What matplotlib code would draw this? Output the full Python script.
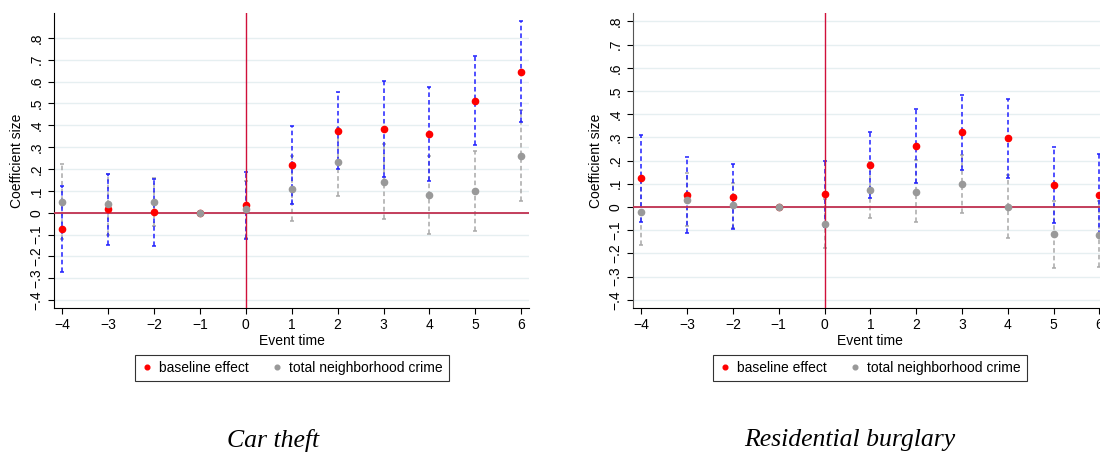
import matplotlib.pyplot as plt
import numpy as np

# event time
event_time = [-4, -3, -2, -1, 0, 1, 2, 3, 4, 5, 6]

# Car theft
car_base = [-0.073, 0.015, 0.002, 0.0, 0.034, 0.218, 0.374, 0.381, 0.360, 0.511, 0.645]
car_base_lo = [-0.270, -0.149, -0.152, 0.0, -0.119, 0.041, 0.200, 0.165, 0.143, 0.310, 0.413]
car_base_hi = [0.122, 0.178, 0.154, 0.0, 0.185, 0.396, 0.550, 0.602, 0.573, 0.715, 0.875]
car_tot = [0.049, 0.040, 0.049, 0.0, 0.015, 0.108, 0.232, 0.140, 0.079, 0.099, 0.261]
car_tot_lo = [-0.120, -0.100, -0.062, 0.0, -0.115, -0.038, 0.078, -0.029, -0.099, -0.082, 0.053]
car_tot_hi = [0.221, 0.175, 0.160, 0.0, 0.145, 0.258, 0.389, 0.314, 0.259, 0.282, 0.471]

# Residential burglary
bur_base = [0.123, 0.050, 0.041, 0.0, 0.056, 0.180, 0.261, 0.322, 0.296, 0.093, 0.053]
bur_base_lo = [-0.065, -0.114, -0.096, 0.0, -0.088, 0.039, 0.102, 0.161, 0.123, -0.069, -0.122]
bur_base_hi = [0.310, 0.215, 0.184, 0.0, 0.200, 0.322, 0.422, 0.481, 0.467, 0.259, 0.228]
bur_tot = [-0.020, 0.031, 0.009, 0.0, -0.075, 0.073, 0.066, 0.097, 0.000, -0.118, -0.119]
bur_tot_lo = [-0.165, -0.083, -0.092, 0.0, -0.177, -0.046, -0.066, -0.026, -0.135, -0.263, -0.259]
bur_tot_hi = [0.120, 0.145, 0.103, 0.0, 0.034, 0.192, 0.201, 0.224, 0.136, 0.027, 0.024]

yticks = [-0.4, -0.3, -0.2, -0.1, 0, 0.1, 0.2, 0.3, 0.4, 0.5, 0.6, 0.7, 0.8]
ytick_labels = ['\u2212.4', '\u2212.3', '\u2212.2', '\u2212.1', '0', '.1', '.2', '.3', '.4', '.5', '.6', '.7', '.8']

plt.rcParams['font.family'] = ['Liberation Sans', 'DejaVu Sans']

fig = plt.figure(figsize=(11, 4.53), dpi=100)


def panel(pos, ylim, base, blo, bhi, tot, tlo, thi, spine_col):
    ax = fig.add_axes(pos)
    x = np.array(event_time)
    base = np.array(base); tot = np.array(tot)
    for yt in yticks:
        ax.axhline(yt, color='#e6eff1', lw=1, zorder=0)
    # gray CIs
    eb = ax.errorbar(x, tot, yerr=[tot - np.array(tlo), np.array(thi) - tot], fmt='none',
                     ecolor='#a8a8a8', elinewidth=1.1, capsize=1.5, capthick=1.1, zorder=2)
    eb[2][0].set_linestyle((0, (3, 2)))
    eb = ax.errorbar(x, base, yerr=[base - np.array(blo), np.array(bhi) - base], fmt='none',
                     ecolor='#1f1fff', elinewidth=1.1, capsize=1.5, capthick=1.1, zorder=3)
    eb[2][0].set_linestyle((0, (3, 2)))
    ax.axhline(0, color='#c03050', lw=1.3, zorder=4)
    ax.axvline(0, color='#d0103a', lw=1.0, zorder=4)
    ax.plot(x, base, 'o', color='#ff0000', ms=4.5, zorder=5, label='baseline effect')
    ax.plot(x, tot, 'o', color='#999999', ms=4.5, zorder=6, label='total neighborhood crime')
    ax.set_xlim(-4.18, 6.17)
    ax.set_ylim(*ylim)
    ax.set_xticks(event_time)
    ax.set_xticklabels([str(t).replace('-', '\u2212') for t in event_time])
    ax.set_yticks(yticks)
    ax.set_yticklabels(ytick_labels, rotation=90, va='center')
    ax.tick_params(labelsize=10, length=4, width=0.8)
    for s in ['top', 'right']:
        ax.spines[s].set_visible(False)
    ax.spines['left'].set_color(spine_col)
    ax.set_xlabel('Event time', fontsize=10, labelpad=1)
    ax.set_ylabel('Coefficient size', fontsize=10, labelpad=4)
    return ax


ax1 = panel([0.0491, 0.320, 0.4318, 0.651], (-0.436, 0.913),
            car_base, car_base_lo, car_base_hi, car_tot, car_tot_lo, car_tot_hi, 'black')
ax2 = panel([0.5755, 0.320, 0.431, 0.651], (-0.436, 0.836),
            bur_base, bur_base_lo, bur_base_hi, bur_tot, bur_tot_lo, bur_tot_hi, '#555555')

for ax, cx in [(ax1, 292 / 1100), (ax2, 870 / 1100)]:
    leg = fig.legend(*ax.get_legend_handles_labels(), loc='center', ncol=2,
                     bbox_to_anchor=(cx, 1 - 368 / 453), fontsize=10, markerscale=0.75,
                     frameon=True, fancybox=False, handlelength=0.8, handletextpad=0.5,
                     columnspacing=1.6, borderpad=0.45)
    leg.get_frame().set_edgecolor('black')
    leg.get_frame().set_linewidth(0.8)

fig.text(273 / 1100, 1 - 440 / 453, 'Car theft', ha='center', va='center',
         fontsize=18.5, style='italic', family=['Liberation Serif', 'DejaVu Serif'])
fig.text(850 / 1100, 1 - 440 / 453, 'Residential burglary', ha='center', va='center',
         fontsize=18.5, style='italic', family=['Liberation Serif', 'DejaVu Serif'])

fig.savefig('out.png', dpi=100)
